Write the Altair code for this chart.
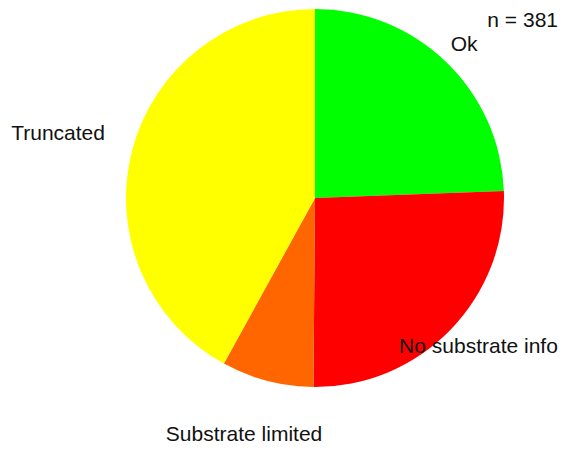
import altair as alt
import pandas as pd

categories = ["Ok", "No substrate info", "Substrate limited", "Truncated"]
counts = [93, 98, 30, 160]
colors = ["#00FF00", "#FF0000", "#FF6600", "#FFFF00"]
total_label = "n = 381"

# label placement: distance from pie centre and horizontal nudge (layout, not data)
label_radius = {"Ok": 212, "No substrate info": 214, "Substrate limited": 245, "Truncated": 256}
label_dx = {"Ok": 2, "No substrate info": 10, "Substrate limited": -9, "Truncated": -9}


def case_expr(d, default):
    return " : ".join([f"datum.category == '{k}' ? {v}" for k, v in d.items()]) + f" : {default}"


df = pd.DataFrame({"category": categories, "count": counts, "idx": list(range(len(categories)))})

cx, cy, R = 307, 190, 189

pie = alt.Chart(df).mark_arc(outerRadius=R, stroke=None).encode(
    theta=alt.Theta("count:Q", stack=True),
    order=alt.Order("idx:Q"),
    color=alt.Color("category:N", scale=alt.Scale(domain=categories, range=colors), legend=None),
    x=alt.value(cx),
    y=alt.value(cy),
)

labels = alt.Chart(df).transform_joinaggregate(
    total="sum(count)"
).transform_window(
    cum="sum(count)", sort=[alt.SortField("idx")], frame=[None, 0]
).transform_calculate(
    r=case_expr(label_radius, 220),
    ddx=case_expr(label_dx, 0),
    mid="(datum.cum - datum.count / 2) / datum.total * 2 * PI",
).transform_calculate(
    px=f"{cx} + datum.r * sin(datum.mid) + datum.ddx",
    py=f"{cy} - datum.r * cos(datum.mid)",
).mark_text(
    font="Liberation Sans", fontSize=21, color="#111111", align="center", baseline="middle"
).encode(
    text="category:N",
    x=alt.X("px:Q", scale=None, axis=None),
    y=alt.Y("py:Q", scale=None, axis=None),
)

ntext = alt.Chart(pd.DataFrame({"t": [total_label]})).mark_text(
    font="Liberation Sans", fontSize=21, color="#111111", align="right", baseline="middle"
).encode(text="t:N", x=alt.value(550), y=alt.value(13))

chart = alt.layer(pie, labels, ntext).properties(
    width=551, height=438, padding=0, autosize=alt.AutoSizeParams(type="none")
).configure_view(stroke=None)

chart.save("out.html", embed_options={"renderer": "svg", "actions": False})
